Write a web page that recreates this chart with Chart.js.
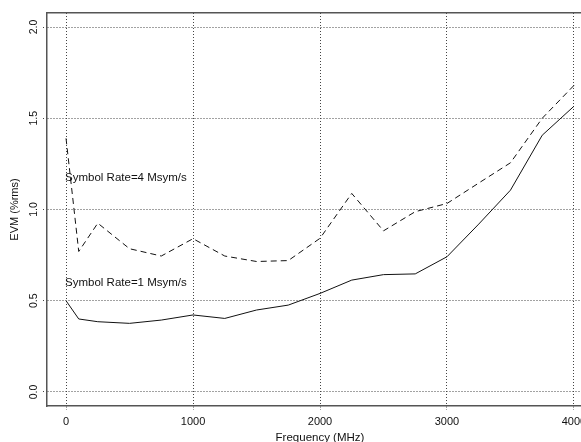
<!DOCTYPE html>
<html>
<head>
<meta charset="utf-8">
<script src="https://cdn.jsdelivr.net/npm/chart.js@4/dist/chart.umd.min.js"></script>
<style>
html,body{margin:0;padding:0;background:#fff;overflow:hidden;}
#wrap{width:581px;height:442px;position:relative;overflow:hidden;}
</style>
</head>
<body>
<div id="wrap"><canvas id="c" width="600" height="445"></canvas></div>
<script>
const freqMHz = [0,100,250,500,750,1000,1250,1500,1750,2000,2250,2500,2750,3000,3250,3500,3750,4000];
const evmRate4 = [1.39,0.77,0.925,0.785,0.745,0.84,0.745,0.715,0.72,0.842,1.088,0.883,0.988,1.033,1.145,1.256,1.5,1.68];
const evmRate1 = [0.5,0.40,0.385,0.376,0.394,0.422,0.403,0.449,0.476,0.54,0.613,0.643,0.647,0.741,0.92,1.106,1.407,1.566];
const xTicks = [0,1000,2000,3000,4000];
const yTicks = [0,0.5,1.0,1.5,2.0];
const seriesLabels = ["Symbol Rate=4 Msym/s","Symbol Rate=1 Msym/s"];
const labelAnchors = [[0,1.172],[0,0.597]];

const FONT = "'Liberation Sans', Arial, Helvetica, sans-serif";
const GRID = '#444';

const textPlugin = {
  id:'seriesText',
  afterDatasetsDraw(chart){
    const ctx = chart.ctx, xs = chart.scales.x, ys = chart.scales.y;
    ctx.save();
    ctx.font = "11.5px " + FONT;
    ctx.fillStyle = '#111';
    ctx.textBaseline = 'middle';
    ctx.textAlign = 'left';
    seriesLabels.forEach((t,i)=>{
      ctx.fillText(t, xs.getPixelForValue(labelAnchors[i][0]) - 1, ys.getPixelForValue(labelAnchors[i][1]));
    });
    ctx.restore();
  }
};

new Chart(document.getElementById('c'), {
  type:'line',
  data:{
    datasets:[
      {label:seriesLabels[0], data:freqMHz.map((f,i)=>({x:f,y:evmRate4[i]})), borderColor:'#111', borderWidth:1, borderDash:[6,4], pointRadius:0, fill:false, tension:0},
      {label:seriesLabels[1], data:freqMHz.map((f,i)=>({x:f,y:evmRate1[i]})), borderColor:'#111', borderWidth:1, pointRadius:0, fill:false, tension:0}
    ]
  },
  options:{
    responsive:false,
    animation:false,
    devicePixelRatio:1,
    layout:{padding:{top:13,right:7,left:0,bottom:0}},
    plugins:{legend:{display:false}, tooltip:{enabled:false}},
    scales:{
      x:{
        type:'linear', min:-150, max:4150,
        afterBuildTicks(s){ s.ticks = xTicks.map(v=>({value:v})); },
        afterFit(s){ s.height = 39; },
        border:{display:true, color:'#555', width:1.5, dash:[1,2]},
        grid:{color:GRID, lineWidth:1, drawTicks:true, tickLength:4, tickColor:GRID, tickBorderDash:[1,2]},
        ticks:{font:{family:FONT,size:11}, color:'#111', padding:5, maxRotation:0, autoSkip:false, callback:v=>String(v)},
        title:{display:true, text:'Frequency (MHz)', font:{family:FONT,size:11.5}, color:'#111', padding:{top:3,bottom:0}}
      },
      xTop:{
        type:'linear', position:'top', min:-150, max:4150,
        afterFit(s){ s.height = 0; },
        border:{display:true, color:'#555', width:1.5},
        grid:{display:false},
        ticks:{display:false}
      },
      y:{
        type:'linear', min:-0.077, max:2.077,
        afterBuildTicks(s){ s.ticks = yTicks.map(v=>({value:v})); },
        afterFit(s){ s.width = 47; },
        border:{display:true, color:'#555', width:1.5, dash:[1,2]},
        grid:{color:GRID, lineWidth:1, drawTicks:true, tickLength:4, tickColor:GRID, tickBorderDash:[1,2]},
        ticks:{font:{family:FONT,size:10.5}, color:'#111', padding:2, crossAlign:'center', minRotation:90, maxRotation:90, autoSkip:false, callback:v=>v.toFixed(1)},
        title:{display:true, text:'EVM (%rms)', font:{family:FONT,size:11}, color:'#111', padding:{top:8,bottom:0}}
      }
    }
  },
  plugins:[textPlugin]
});
</script>
</body>
</html>
